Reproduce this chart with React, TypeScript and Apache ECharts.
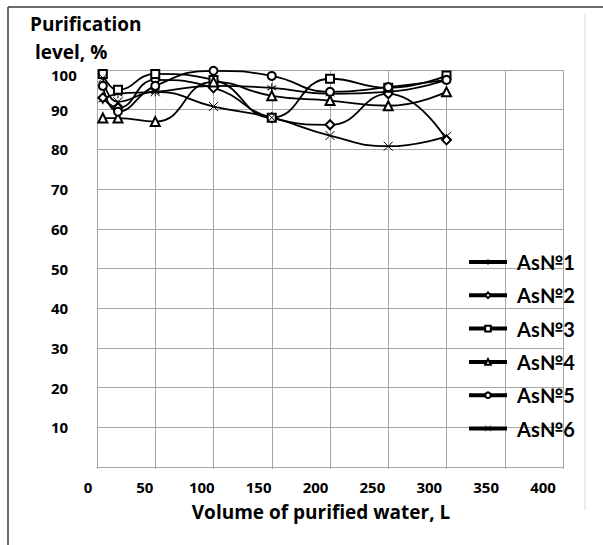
import React, { useEffect, useRef } from "react";
import * as echarts from "echarts";

const xValues = [5, 18, 50, 100, 150, 200, 250, 300];
const seriesNames = ["AsNo1", "AsNo2", "AsNo3", "AsNo4", "AsNo5", "AsNo6"].map((s) => s.replace("No", "№"));
const as1 = [92.5, 94, 94.5, 96, 95.5, 94, 94.5, 97.5];
const as2 = [93, 90.5, 97.5, 95.5, 88, 86.2, 94, 82.4];
const as3 = [99, 95, 99, 97.5, 88, 97.8, 95.5, 98.6];
const as4 = [87.9, 87.9, 87, 97, 93.5, 92.3, 91, 94.5];
const as5 = [96, 89.5, 96, 99.8, 98.5, 94.5, 95.7, 97.5];
const as6 = [98, 92, 94.5, 90.8, 88, 83.5, 80.8, 83.3];
const seriesValues = [as1, as2, as3, as4, as5, as6];
const xTicks = [0, 50, 100, 150, 200, 250, 300, 350, 400];
const yTicks = [0, 10, 20, 30, 40, 50, 60, 70, 80, 90, 100];

const FONT = "'Open Sans', 'Noto Sans', sans-serif";
const LEGEND_FONT = "Lato, 'Noto Sans', sans-serif";
const symbols = [
  "path://M0,-5L0,5M-4.3,-2.5L4.3,2.5M-4.3,2.5L4.3,-2.5",
  "emptyDiamond",
  "emptyRect",
  "emptyTriangle",
  "emptyCircle",
  "path://M-5,-5L5,5M-5,5L5,-5",
];
const symbolSizes = [9, 9, 8, 9, 8, 9];

export default function App() {
  const ref = useRef<HTMLDivElement>(null);
  useEffect(() => {
    if (!ref.current) return;
    const chart = echarts.init(ref.current, null, { renderer: "svg" });
    const grey = "#a6a6a6";
    chart.setOption({
      animation: false,
      backgroundColor: "#fff",
      grid: [
        { left: 97, right: 40, top: 70, bottom: 78 },
        { left: 88, right: 60, top: 70, bottom: 78 },
      ],
      xAxis: [
        {
          type: "value",
          gridIndex: 0,
          min: xTicks[0],
          max: xTicks[xTicks.length - 1],
          interval: 50,
          axisLabel: { show: false },
          axisLine: { show: true, lineStyle: { color: grey, width: 1 } },
          axisTick: { show: true, length: 2, lineStyle: { color: grey } },
          splitLine: { show: true, lineStyle: { color: grey, width: 1 } },
        },
        {
          type: "value",
          gridIndex: 1,
          min: xTicks[0],
          max: xTicks[xTicks.length - 1],
          interval: 50,
          axisLabel: {
            show: true,
            margin: 12,
            fontSize: 15,
            fontWeight: "bold",
            fontFamily: FONT,
            color: "#000",
          },
          axisLine: { show: false },
          axisTick: { show: false },
          splitLine: { show: false },
        },
      ],
      yAxis: [
        {
          type: "value",
          gridIndex: 0,
          min: yTicks[0],
          max: yTicks[yTicks.length - 1],
          interval: 10,
          axisLine: { show: true, lineStyle: { color: grey, width: 1 } },
          axisTick: { show: false },
          splitLine: { show: true, lineStyle: { color: grey, width: 1 } },
          axisLabel: {
            align: "left",
            margin: 46,
            fontSize: 15,
            fontWeight: "bold",
            fontFamily: FONT,
            color: "#000",
            formatter: (v: number) => (v === 0 ? "" : v === 100 ? "{t|100}" : String(v)),
            rich: {
              t: { fontSize: 15, fontWeight: "bold", fontFamily: FONT, color: "#000", padding: [9, 0, 0, 0] },
            },
          },
        },
        { type: "value", gridIndex: 1, min: 0, max: 100, show: false },
      ],
      legend: {
        orient: "vertical",
        left: 467,
        top: 252,
        padding: 0,
        itemWidth: 38,
        itemHeight: 7,
        itemGap: 13.3,
        data: seriesNames,
        lineStyle: { width: 4, color: "#000" },
        itemStyle: { borderWidth: 1 },
        textStyle: {
          fontSize: 20,
          lineHeight: 20,
          fontWeight: "bold",
          fontFamily: LEGEND_FONT,
          color: "#000",
          padding: [0, 0, 0, 5],
        },
      },
      series: seriesNames.map((name, i) => ({
        name,
        type: "line",
        xAxisIndex: 0,
        yAxisIndex: 0,
        smooth: 0.5,
        data: xValues.map((x, j) => [x, seriesValues[i][j]]),
        symbol: symbols[i],
        symbolSize: symbolSizes[i],
        showSymbol: true,
        lineStyle: { color: "#000", width: 1.8 },
        itemStyle: { color: "#000", borderColor: "#000", borderWidth: 1 },
        emphasis: { disabled: true },
      })),
      graphic: [
        { type: "line", shape: { x1: 8, y1: 7, x2: 603, y2: 7 }, style: { stroke: "#3a3a3a", lineWidth: 1.5 } },
        { type: "line", shape: { x1: 8, y1: 7, x2: 8, y2: 545 }, style: { stroke: "#3a3a3a", lineWidth: 1.5 } },
        { type: "line", shape: { x1: 585, y1: 13, x2: 585, y2: 510 }, style: { stroke: "#d9d9d9", lineWidth: 1 } },
        {
          type: "text",
          left: 30,
          top: 14,
          style: { text: "Purification", fontSize: 19, fontWeight: "bold", fontFamily: FONT, fill: "#000" },
        },
        {
          type: "text",
          left: 35,
          top: 42,
          style: { text: "level, %", fontSize: 19, fontWeight: "bold", fontFamily: FONT, fill: "#000" },
        },
        {
          type: "text",
          x: 321,
          y: 512,
          style: {
            text: "Volume of purified water, L",
            fontSize: 19,
            fontWeight: "bold",
            fontFamily: FONT,
            fill: "#000",
            align: "center",
            verticalAlign: "middle",
          },
        },
      ],
    });
    return () => chart.dispose();
  }, []);
  return <div ref={ref} style={{ width: 603, height: 545, position: "absolute", left: 0, top: 0 }} />;
}
